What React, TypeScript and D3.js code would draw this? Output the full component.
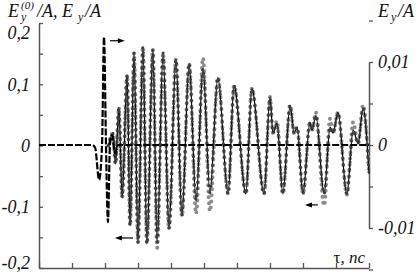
import { useEffect, useRef } from "react";
import * as d3 from "d3";

// tau in tick units (ticks unlabeled), left axis values
const solidTau = [2.1, 2.24, 2.32, 2.42, 2.52, 2.67, 2.76, 2.88, 3.0, 3.15, 3.27, 3.45, 3.58, 3.76, 3.94, 4.15, 4.33, 4.55, 4.76, 4.97, 5.18, 5.42, 5.73, 5.91, 6.27, 6.45, 6.82, 7.0, 7.09, 7.21, 7.39, 7.61, 7.73, 7.82, 8.0, 8.21, 8.27, 8.39, 8.64, 8.82, 8.91, 9.06, 9.33, 9.52, 9.67, 9.82, 10.0];
const solidVal = [0, 0.02, -0.03, 0.062, -0.085, 0.115, -0.131, 0.151, -0.159, 0.161, -0.161, 0.157, -0.159, 0.151, -0.136, 0.141, -0.115, 0.134, -0.09, 0.126, -0.077, 0.111, -0.079, 0.098, -0.079, 0.093, -0.079, 0.079, 0.02, 0.036, -0.079, 0.066, 0.02, 0.03, -0.079, 0.038, 0.025, 0.049, -0.079, 0.03, 0.02, 0.054, -0.08, 0.025, 0.003, 0.061, -0.046];
const grayVal = [0, 0.02, -0.03, 0.062, -0.085, 0.115, -0.131, 0.151, -0.159, 0.161, -0.161, 0.157, -0.167, 0.151, -0.136, 0.141, -0.115, 0.134, -0.111, 0.143, -0.107, 0.111, -0.079, 0.098, -0.079, 0.093, -0.079, 0.079, 0.02, 0.04, -0.079, 0.066, 0.02, 0.03, -0.079, 0.038, 0.025, 0.054, -0.098, 0.044, 0.02, 0.054, -0.08, 0.038, 0.003, 0.066, -0.046];

// dashed pulse, right axis values
const dashTau = [0, 1.6, 1.7, 1.82, 1.91, 1.97, 2.03, 2.09, 2.15, 2.21, 2.3, 2.4, 10];
const dashVal = [0, 0, -0.0003, -0.0042, 0, 0.013, 0, -0.0093, 0, 0.0012, -0.001, 0, 0];

const leftTicks = [-0.2, -0.15, -0.1, -0.05, 0, 0.05, 0.1, 0.15, 0.2];
const leftLabels: Record<string, string> = { "-0.2": "-0,2", "-0.1": "-0,1", "0": "0", "0.1": "0,1", "0.2": "0,2" };
const rightTicks = [-0.015, -0.01, -0.005, 0, 0.005, 0.01, 0.015];
const rightLabels: Record<string, string> = { "-0.01": "-0,01", "0": "0", "0.01": "0,01" };
const xTicks = [0, 1, 2, 3, 4, 5, 6, 7, 8, 9, 10];

// arrows: [tauFrom, tauTo, leftValue]
const arrows = [
  [2.15, 2.6, 0.171],
  [2.85, 2.3, -0.151],
  [8.45, 8.06, -0.097],
];

const width = 419;
const height = 275;
const font = "'Liberation Serif', 'Times New Roman', serif";

const App = () => {
  const leftRef = useRef<SVGGElement>(null);
  const rightRef = useRef<SVGGElement>(null);
  const bottomRef = useRef<SVGGElement>(null);

  const x = d3.scaleLinear().domain([0, 10]).range([39, 369]);
  const yL = d3.scaleLinear().domain([-0.2, 0.2]).range([268, 23]);
  const yR = d3.scaleLinear().domain([-0.01, 0.01]).range([228, 62]);

  const line = d3.line<[number, number]>().curve(d3.curveMonotoneX);
  const solidPath = line(solidTau.map((t, i) => [x(t), yL(solidVal[i])]))!;
  const grayPath = line(solidTau.map((t, i) => [x(t), yL(grayVal[i])]))!;
  const dashPath = line(dashTau.map((t, i) => [x(t), yR(dashVal[i])]))!;

  useEffect(() => {
    const styleAxis = (g: d3.Selection<SVGGElement, unknown, null, undefined>) => {
      g.select(".domain").attr("stroke", "#555").attr("stroke-width", 1.5);
      g.selectAll(".tick line").attr("stroke", "#555").attr("stroke-width", 1.3);
      g.selectAll("text")
        .attr("font-family", font)
        .attr("font-style", "italic")
        .attr("font-size", 18)
        .attr("fill", "#111");
    };

    d3.select(leftRef.current!)
      .call(
        d3.axisLeft(yL).tickValues(leftTicks).tickSize(-4).tickSizeOuter(0).tickPadding(9)
          .tickFormat((d) => leftLabels[String(+(+d).toFixed(3))] ?? "")
      )
      .call(styleAxis)
      .selectAll<SVGTextElement, number>("text")
      .attr("dy", (d) => (d === 0.2 ? "0.85em" : d === -0.2 ? "0.05em" : "0.32em"));

    d3.select(rightRef.current!)
      .call(
        d3.axisRight(yR).tickValues(rightTicks).tickSize(4).tickSizeOuter(0).tickPadding(5)
          .tickFormat((d) => rightLabels[String(+(+d).toFixed(4))] ?? "")
      )
      .call(styleAxis)
      .selectAll("text").attr("dy", "0.32em");

    d3.select(bottomRef.current!)
      .call(d3.axisBottom(x).tickValues(xTicks).tickSize(-5).tickSizeOuter(0).tickFormat(() => ""))
      .call(styleAxis);
  }, []);

  return (
    <svg width={width} height={height} style={{ position: "absolute", left: 0, top: 0 }}>
      <rect width={width} height={height} fill="#fff" />
      <g ref={bottomRef} transform="translate(0,268)" />
      <g ref={leftRef} transform="translate(39,0)" />
      <g ref={rightRef} transform="translate(369,0)" />

      {/* gray dotted series */}
      <path d={grayPath} fill="none" stroke="#8c8c8c" strokeWidth={4} strokeLinecap="round" strokeDasharray="0 6" />
      {/* solid series with markers */}
      <path d={solidPath} fill="none" stroke="#000" strokeWidth={1.2} />
      <path d={solidPath} fill="none" stroke="#3c3c3c" strokeWidth={3} strokeLinecap="round" strokeDasharray="0 7" />

      {/* dashed series (right axis) */}
      <path d={dashPath} fill="none" stroke="#000" strokeWidth={2.2} strokeDasharray="7 2" />

      {/* arrows */}
      {arrows.map(([a, b, v], i) => {
        const x1 = x(a), x2 = x(b), yy = yL(v);
        const dir = x2 > x1 ? 1 : -1;
        return (
          <g key={i}>
            <line x1={x1} y1={yy} x2={x2 - dir * 4} y2={yy} stroke="#000" strokeWidth={1.2} />
            <path d={`M${x2},${yy}L${x2 - dir * 7},${yy - 2.5}L${x2 - dir * 7},${yy + 2.5}Z`} fill="#000" />
          </g>
        );
      })}

      {/* titles */}
      <g fontFamily={font} fontStyle="italic" fill="#111">
        <text x={8} y={17} fontSize={18}>E</text>
        <text x={21} y={21} fontSize={12}>y</text>
        <text x={21} y={9} fontSize={11}>(0)</text>
        <text x={37} y={17} fontSize={18}>/A, E</text>
        <text x={78} y={21} fontSize={12}>y</text>
        <text x={85} y={17} fontSize={18}>/A</text>

        <text x={378} y={17} fontSize={18}>E</text>
        <text x={391} y={21} fontSize={12}>y</text>
        <text x={398} y={17} fontSize={18}>/A</text>

        <text x={365} y={263} fontSize={17} textAnchor="end">
          <tspan fontStyle="normal">τ</tspan>, пс
        </text>
      </g>
    </svg>
  );
};

export default App;
